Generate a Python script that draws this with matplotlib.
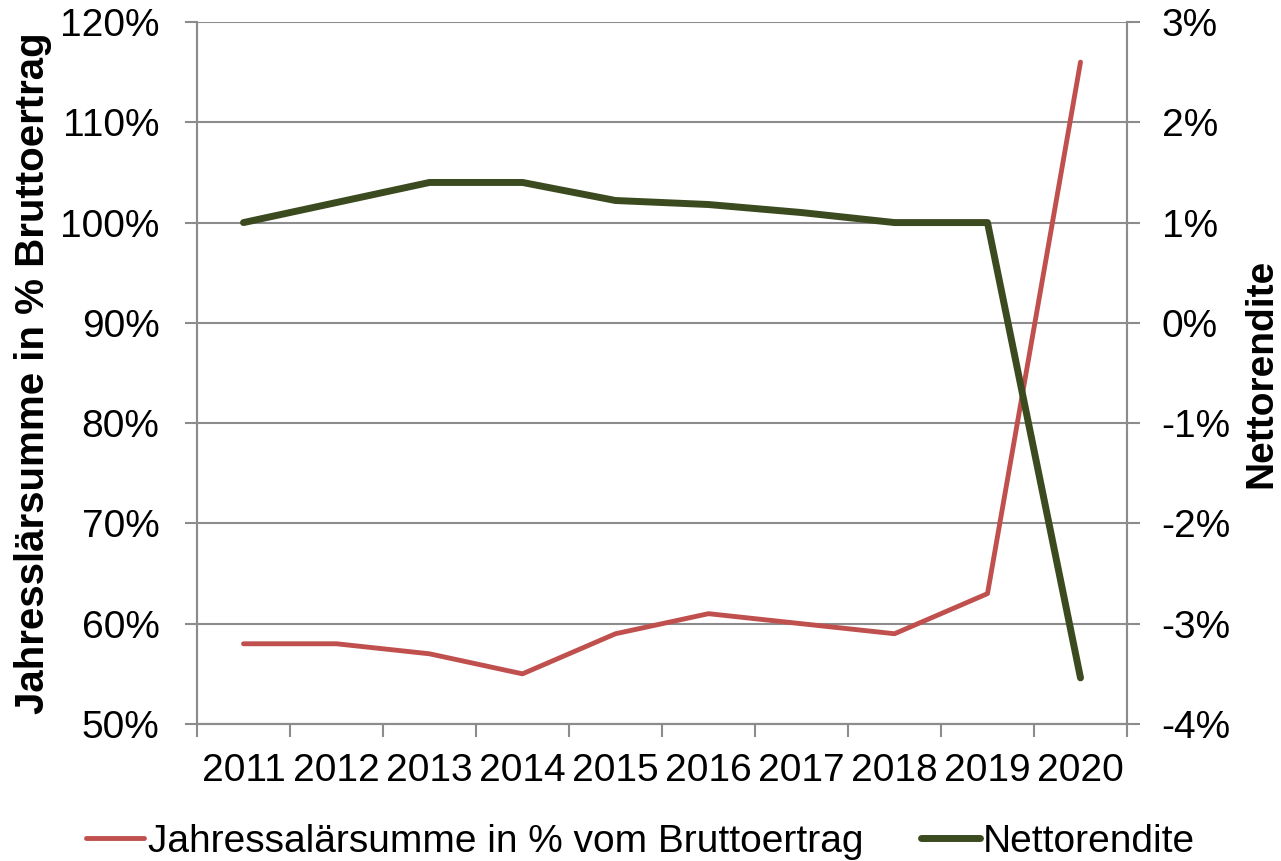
import numpy as np
import matplotlib
matplotlib.use("Agg")
import matplotlib.pyplot as plt
from matplotlib.ticker import FixedLocator, NullFormatter, FuncFormatter

plt.rcParams["font.family"] = ["Liberation Sans", "DejaVu Sans"]

years = ["2011", "2012", "2013", "2014", "2015", "2016", "2017", "2018", "2019", "2020"]
salaer_pct = [58, 58, 57, 55, 59, 61, 60, 59, 63, 116]
netto_pct = [1.0, 1.2, 1.4, 1.4, 1.22, 1.18, 1.1, 1.0, 1.0, -3.54]

GRID = "#8c8c8c"
RED = "#C0504D"
GREEN = "#3B4A1F"

fig = plt.figure(figsize=(12.81, 8.61), dpi=100)
ax = fig.add_axes([197 / 1281, 1 - 724 / 861, (1127 - 197) / 1281, (724 - 22) / 861])
ax2 = ax.twinx()

x = np.arange(len(years))
ax.plot(x, salaer_pct, color=RED, lw=3.5, solid_capstyle="round", zorder=3,
        label="Jahressalärsumme in % vom Bruttoertrag")
ax2.plot(x, netto_pct, color=GREEN, lw=5.0, solid_capstyle="round", zorder=3,
         label="Nettorendite")

ax.set_xlim(-0.5, len(years) - 0.5)
ax.set_ylim(50, 120)
ax.set_yticks(np.arange(50, 121, 10))
ax.yaxis.set_major_formatter(FuncFormatter(lambda v, p: f"{v:.0f}%"))
ax2.set_ylim(-4, 3)
ax2.set_yticks(np.arange(-4, 4, 1))
ax2.yaxis.set_major_formatter(FuncFormatter(lambda v, p: f"{v:.0f}%"))

ax.xaxis.set_major_locator(FixedLocator(np.arange(-0.5, len(years), 1.0)))
ax.xaxis.set_major_formatter(NullFormatter())
ax.xaxis.set_minor_locator(FixedLocator(x))
ax.set_xticklabels(years, minor=True)
ax.tick_params(axis="x", which="minor", length=0, pad=21, labelsize=28)
ax.tick_params(axis="x", which="major", length=9, width=1.5, color=GRID)
ax.tick_params(axis="y", length=9, width=1.5, color=GRID, labelsize=28, pad=18)
ax2.tick_params(axis="y", length=9, width=1.5, color=GRID, labelsize=28, pad=16)

ax.grid(axis="y", color=GRID, lw=1.5)
ax.set_axisbelow(True)
for a in (ax, ax2):
    a.spines["top"].set_visible(False)
    for s in ("left", "right", "bottom"):
        a.spines[s].set_color(GRID)
        a.spines[s].set_linewidth(1.5)

ax.set_ylabel("Jahresslärsumme in % Bruttoertrag", fontsize=29, fontweight="bold", labelpad=6)
ax2.set_ylabel("Nettorendite", fontsize=28, fontweight="bold", labelpad=9)

h1, l1 = ax.get_legend_handles_labels()
h2, l2 = ax2.get_legend_handles_labels()
fig.legend(h1 + h2, l1 + l2, loc="center", bbox_to_anchor=(0.5, 1 - 842 / 861), ncol=2,
           frameon=False, fontsize=28, handlelength=1.5, handletextpad=0.08,
           columnspacing=1.5)

fig.savefig("out.png", dpi=100)
